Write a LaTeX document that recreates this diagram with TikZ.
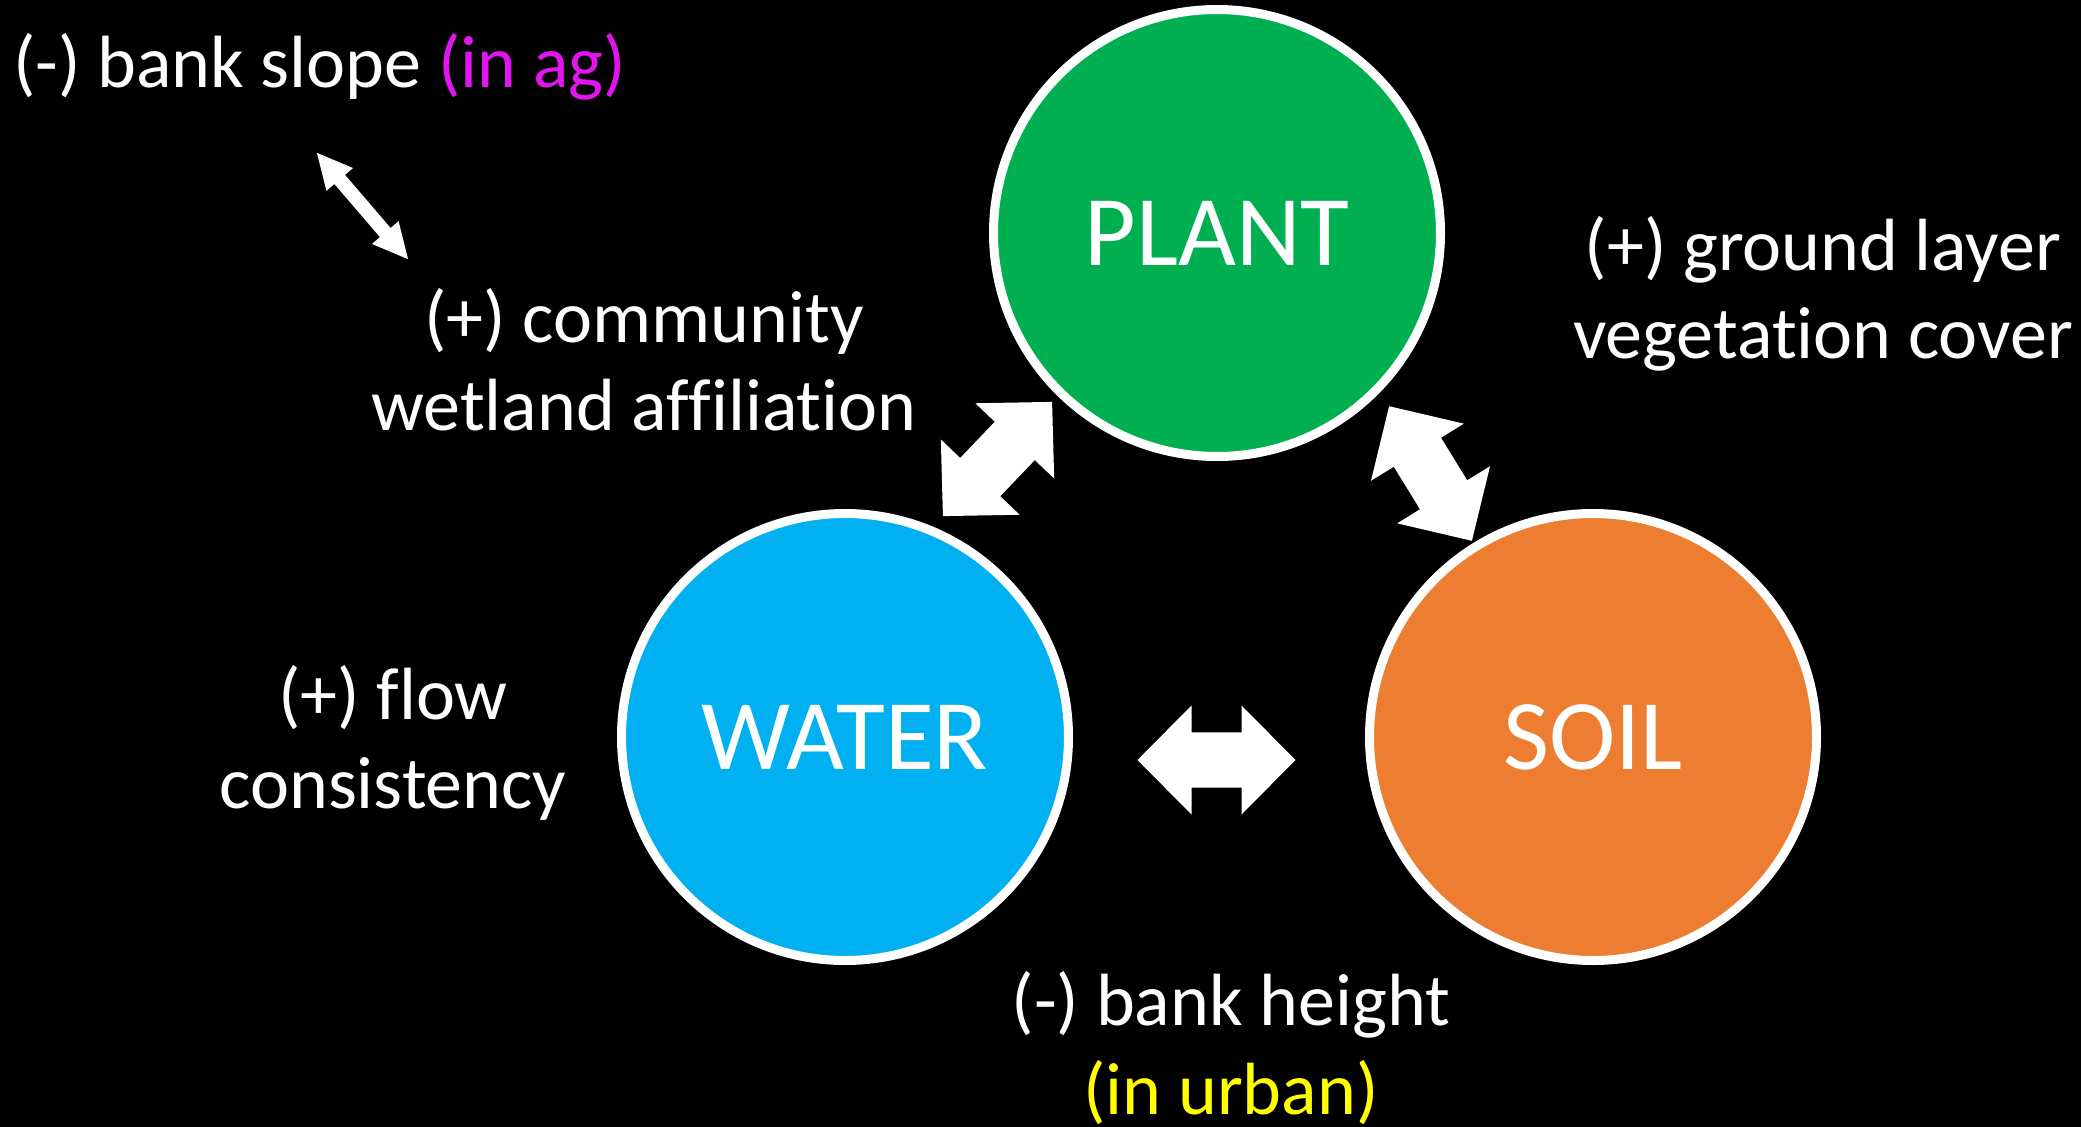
\documentclass[tikz,border=0pt]{standalone}
\usepackage{fontspec}
\setmainfont{Carlito}[Ligatures=NoCommon]
\definecolor{plantgreen}{HTML}{00B050}
\definecolor{waterblue}{HTML}{00B0F0}
\definecolor{soilorange}{HTML}{ED7D31}
\definecolor{agmagenta}{HTML}{E414F0}
\definecolor{urbanyellow}{HTML}{FFFF00}
\newcommand\lblfont{\fontsize{74}{89}\selectfont}
\newcommand\hubfont{\fontsize{100}{120}\selectfont}
\tikzset{
  pics/dblarrow/.style n args={4}{code={
    \fill[white] (-#1,0) -- (-#1+#2,#3) -- (-#1+#2,#4) -- (#1-#2,#4) -- (#1-#2,#3)
      -- (#1,0) -- (#1-#2,-#3) -- (#1-#2,-#4) -- (-#1+#2,-#4) -- (-#1+#2,-#3) -- cycle;
  }},
  lbl/.style={text=white, font=\lblfont, inner sep=0pt, anchor=base},
  hub/.style={circle, draw=white, line width=9pt, minimum size=447pt, inner sep=0pt,
    text=white, font=\hubfont}
}
\begin{document}
\begin{tikzpicture}[x=1pt,y=-1pt]
\fill[black] (0,0) rectangle (2081,1127);
\useasboundingbox (0,0) rectangle (2081,1127);

% hubs
\node[hub, fill=plantgreen] (plant) at (1217,233) {PLANT};
\node[hub, fill=waterblue] (water) at (845,737) {WATER};
\node[hub, fill=soilorange] (soil) at (1593,737) {SOIL};

% block arrows between hubs
\pic[rotate=46.3] (wp) at (997.5,459) {dblarrow={79}{54}{54.5}{27.7}};
\pic[rotate=-58.4] (ps) at (1430.5,473.5) {dblarrow={79}{54}{54.5}{27.7}};
\pic (ws) at (1216.5,760) {dblarrow={79}{54}{54.5}{27.7}};

% labels
\node[lbl, anchor=base west] (slope) at (13,87) {(-) bank slope \textcolor{agmagenta}{(in ag)}};
\pic[rotate=-49.4] (slopearrow) at (362.5,206) {dblarrow={70}{35}{17.5}{7}};
\node[lbl] (comm1) at (644,342) {(+) community};
\node[lbl] (comm2) at (644,430) {wetland affiliation};
\node[lbl] (ground1) at (1823,270) {(+) ground layer};
\node[lbl] (ground2) at (1823,358) {vegetation cover};
\node[lbl] (flow1) at (393,719) {(+) flow};
\node[lbl] (flow2) at (393,808) {consistency};
\node[lbl] (height1) at (1231,1025) {(-) bank height};
\node[lbl] (height2) at (1231,1114) {\textcolor{urbanyellow}{(in urban)}};
\end{tikzpicture}
\end{document}
